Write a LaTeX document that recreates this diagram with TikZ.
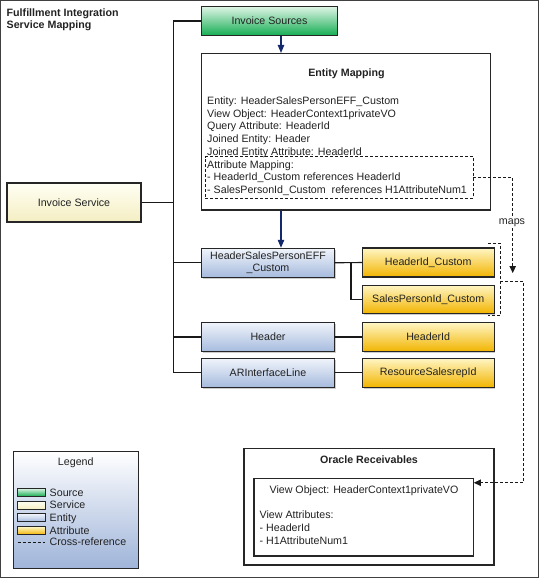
\documentclass[tikz,border=0pt]{standalone}
\usepackage{fontspec}
\setmainfont{Liberation Sans}
\usetikzlibrary{arrows.meta,shadows,calc}
\definecolor{srcT}{HTML}{DDF4E4}
\definecolor{srcB}{HTML}{17AE55}
\definecolor{svcT}{HTML}{FFFFF4}
\definecolor{svcB}{HTML}{F4EEC2}
\definecolor{entT}{HTML}{F0F4FB}
\definecolor{entB}{HTML}{A6BBDE}
\definecolor{attT}{HTML}{FFF6C4}
\definecolor{attB}{HTML}{F2B400}
\definecolor{legB}{HTML}{9FB4D9}
\definecolor{navy}{HTML}{14296B}
\definecolor{ink}{HTML}{222222}
\begin{document}
\begin{tikzpicture}[x=1pt,y=-1pt,
  font=\fontsize{10.67}{12.75}\selectfont, text=ink,
  box/.style={draw=black!85, line width=1.1pt, inner sep=0pt, align=center,
    drop shadow={shadow xshift=1.2pt,shadow yshift=-1.2pt,fill=black!40}},
  plainbox/.style={draw=black!85, line width=1.1pt, inner sep=0pt, fill=white},
  srcfill/.style={top color=srcT, bottom color=srcB},
  svcfill/.style={top color=svcT, bottom color=svcB},
  entfill/.style={top color=entT, bottom color=entB},
  attfill/.style={top color=attT, bottom color=attB},
  entbox/.style={box, entfill, minimum width=132.6pt, minimum height=29pt},
  attbox/.style={box, attfill, minimum width=131.7pt, minimum height=29pt},
  swatch/.style={draw=black!85, line width=0.9pt, inner sep=0pt, minimum width=28pt, minimum height=8pt},
  txt/.style={inner sep=0pt, anchor=base west},
  conn/.style={draw=black!90, line width=1.1pt},
  nav/.style={draw=navy, line width=1.1pt, -{Triangle[length=8pt,width=6.5pt]}},
  xref/.style={draw=black!90, line width=0.8pt, dash pattern=on 3pt off 2pt},
  xarr/.style={xref, -{Triangle[length=7pt,width=6.5pt]}}
]
\path[use as bounding box] (0,0) rectangle (539,578);
\draw[line width=1pt, black!75] (0.7,0.7) rectangle (538.3,577.3);

% title
\node[txt, font=\fontsize{10.67}{12.75}\selectfont\bfseries] (title1) at (6.5,16.6) {Fulfillment Integration};
\node[txt, font=\fontsize{10.67}{12.75}\selectfont\bfseries] (title2) at (6.5,28.9) {Service Mapping};

% source and service
\node[box, srcfill, minimum width=135.5pt, minimum height=28.5pt] (isrc) at (269.5,21) {Invoice Sources};
\node[box, svcfill, minimum width=134pt, minimum height=39pt] (isvc) at (74,202.5) {Invoice Service};

% entity mapping
\node[plainbox, minimum width=289pt, minimum height=156.5pt] (emap) at (346.2,131.75) {};
\node[inner sep=0pt, font=\fontsize{10.67}{12.75}\selectfont\bfseries] (emt) at (346.5,74) {Entity Mapping};
\node[txt] (em1) at (207,104.6) {Entity: HeaderSalesPersonEFF\_Custom};
\node[txt] (em2) at (207,117.2) {View Object: HeaderContext1privateVO};
\node[txt] (em3) at (207,129.9) {Query Attribute: HeaderId};
\node[txt] (em4) at (207,142.3) {Joined Entity: Header};
\node[txt] (em5) at (207,155.0) {Joined Entity Attribute: HeaderId};
\node[xref, draw, inner sep=0pt, minimum width=268pt, minimum height=41.5pt] (amap) at (339,177.5) {};
\node[txt] (em6) at (207,168.2) {Attribute Mapping:};
\node[txt] (em7) at (207,180.9) {- HeaderId\_Custom references HeaderId};
\node[txt] (em8) at (207,193.8) {- SalesPersonId\_Custom\ \ references H1AttributeNum1};

% entities
\node[entbox] (hsp) at (268,262.8) {HeaderSalesPersonEFF\\\_Custom};
\node[entbox] (hdr) at (268,337) {Header};
\node[entbox] (arl) at (268,372.8) {ARInterfaceLine};

% attributes
\node[attbox] (hidc) at (428.2,262.5) {HeaderId\_Custom};
\node[attbox, minimum height=28.3pt] (spid) at (428.2,299.2) {SalesPersonId\_Custom};
\node[attbox] (hid) at (428.2,337) {HeaderId};
\node[attbox] (rsid) at (428.2,372.8) {ResourceSalesrepId};

% tree connectors
\coordinate (tx) at (173.3,0);
\coordinate (bx) at (351,0);
\draw[conn] (isrc.west) -| (tx |- arl.west) -- (arl.west);
\draw[conn] (isvc.east) -- (tx |- isvc.east);
\draw[conn] (tx |- hsp.west) -- (hsp.west);
\draw[conn] (tx |- hdr.west) -- (hdr.west);
\draw[conn] (hsp.east) -- (hidc.west);
\draw[conn] (bx |- hsp.east) |- (spid.west);
\draw[conn] (hdr.east) -- (hid.west);
\draw[conn] (arl.east) -- (rsid.west);

% blue arrows
\coordinate (ax) at (281,0);
\draw[nav] (isrc.south -| ax) -- (emap.north -| ax);
\draw[nav] (emap.south -| ax) -- (hsp.north -| ax);

% oracle receivables
\node[plainbox, minimum width=250pt, minimum height=116.7pt] (orc) at (369,506.65) {};
\node[inner sep=0pt, font=\fontsize{10.67}{12.75}\selectfont\bfseries] (orct) at (369,460) {Oracle Receivables};
\node[plainbox, minimum width=219.3pt, minimum height=77.7pt] (orin) at (363.65,517.15) {};
\node[inner sep=0pt, anchor=base] (or1) at (364,493.9) {View Object: HeaderContext1privateVO};
\node[txt] (or2) at (259.5,518.2) {View Attributes:};
\node[txt] (or3) at (259.5,531.4) {- HeaderId};
\node[txt] (or4) at (259.5,544.2) {- H1AttributeNum1};

% cross references
\coordinate (mx) at (512.7,273);
\draw[xarr] (amap.east) -| (mx);
\node[fill=white, inner sep=1pt] (mapslbl) at (512,223) {maps};
\coordinate (br1) at (488,243);
\coordinate (br2) at (500,243);
\coordinate (br3) at (500,315.7);
\coordinate (br4) at (488,315.7);
\draw[xref] (br1) -- (br2) -- (br3) -- (br4);
\coordinate (brm) at (500,281.7);
\coordinate (xr) at (523.3,0);
\coordinate (otgt) at ($(orin.north east)+(0,5)$);
\draw[xarr] (brm) -| (xr |- otgt) -- (otgt);

% legend
\node[draw=black!85, line width=1.1pt, inner sep=0pt, top color=white, bottom color=legB,
  minimum width=125pt, minimum height=117.3pt] (leg) at (75.8,509.7) {};
\node[inner sep=0pt] (legt) at (75.8,463) {Legend};
\node[swatch, srcfill] (sw1) at (31,492.3) {};
\node[swatch, svcfill] (sw2) at (31,505) {};
\node[swatch, entfill] (sw3) at (31,517.7) {};
\node[swatch, attfill] (sw4) at (31,530.7) {};
\coordinate (lx1) at (17.5,542);
\coordinate (lx2) at (44.5,542);
\draw[xref] (lx1) -- (lx2);
\node[txt] (lg1) at (49.5,496.2) {Source};
\node[txt] (lg2) at (49.5,508.9) {Service};
\node[txt] (lg3) at (49.5,521.6) {Entity};
\node[txt] (lg4) at (49.5,534.6) {Attribute};
\node[txt] (lg5) at (49.5,545.9) {Cross-reference};
\end{tikzpicture}
\end{document}
